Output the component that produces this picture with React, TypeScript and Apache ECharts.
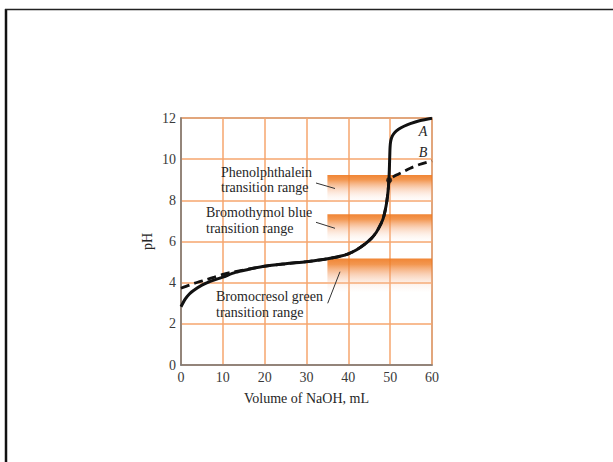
import React, { useEffect, useRef } from "react";
import * as echarts from "echarts";

// Curve A (solid): [volume NaOH mL, pH]
const curveA: [number, number][] = [
  [0, 2.83], [1, 3.2], [2, 3.45], [3, 3.62], [5, 3.88], [7, 4.06], [10, 4.27],
  [13, 4.5], [16, 4.64], [20, 4.8], [25, 4.92], [30, 5.02], [33, 5.1], [36, 5.2],
  [38, 5.28], [40, 5.4], [42, 5.6], [44, 5.88], [45.5, 6.15], [46.7, 6.45],
  [47.6, 6.78], [48.3, 7.1], [48.8, 7.5], [49.2, 7.95], [49.5, 8.45], [49.7, 9.0],
  [49.82, 9.6], [49.9, 10.15], [49.98, 10.6], [50.15, 10.9], [50.5, 11.12],
  [51.1, 11.3], [52, 11.45], [53.3, 11.6], [54.8, 11.73], [57, 11.87], [60, 11.99],
];

// Curve B (dashed)
const curveB: [number, number][] = [
  [0, 3.73], [2, 3.88], [4, 4.02], [6, 4.14], [8, 4.27], [10, 4.4], [12, 4.5],
  [13, 4.54], [16, 4.65], [20, 4.8], [25, 4.92], [30, 5.02], [33, 5.1], [36, 5.2],
  [38, 5.28], [40, 5.4], [42, 5.6], [44, 5.88], [45.5, 6.15], [46.7, 6.45],
  [47.6, 6.78], [48.3, 7.1], [48.8, 7.5], [49.2, 7.95], [49.5, 8.45], [49.72, 8.9],
  [50.1, 9.05], [50.8, 9.15], [51.6, 9.24], [52.4, 9.32], [54.8, 9.56], [57, 9.74],
  [60, 9.92],
];

const junctionPoint: [number, number][] = [[49.75, 8.98]];

// Indicator transition ranges: [xStart, xEnd, pHTop, pHBottom]
const bandNames = ["Phenolphthalein", "Bromothymol blue", "Bromocresol green"];
const bands: [number, number, number, number][] = [
  [35, 60, 9.23, 7.94],
  [35, 60, 7.32, 6.0],
  [35, 60, 5.18, 3.56],
];

const xTicks = { min: 0, max: 60, interval: 10 };
const yTicks = { min: 0, max: 12, interval: 2 };

const SERIF = "'Liberation Serif', 'Times New Roman', serif";
const TXT = "#262626";

export default function App() {
  const ref = useRef<HTMLDivElement>(null);

  useEffect(() => {
    if (!ref.current) return;
    const chart = echarts.init(ref.current, null, { renderer: "svg" });

    const bandGradient = new echarts.graphic.LinearGradient(0, 0, 0, 1, [
      { offset: 0, color: "rgba(239,122,34,0.92)" },
      { offset: 0.18, color: "rgba(240,128,42,0.82)" },
      { offset: 0.5, color: "rgba(244,160,105,0.45)" },
      { offset: 0.8, color: "rgba(248,200,170,0.18)" },
      { offset: 1, color: "rgba(252,230,215,0.05)" },
    ]);

    const textEl = (text: string, x: number, y: number) => ({
      type: "text",
      x,
      y,
      style: {
        text,
        fill: TXT,
        font: `14px ${SERIF}`,
        textAlign: "left",
        textVerticalAlign: "middle",
      },
      z: 10,
    });

    const lineEl = (x1: number, y1: number, x2: number, y2: number) => ({
      type: "line",
      shape: { x1, y1, x2, y2 },
      style: { stroke: "#333", lineWidth: 1 },
      z: 10,
    });

    chart.setOption({
      animation: false,
      backgroundColor: "#fff",
      grid: {
        left: 181,
        top: 118,
        width: 251,
        height: 247,
        show: true,
        borderColor: "#8a8a8a",
        borderWidth: 1.5,
        containLabel: false,
      },
      xAxis: {
        type: "value",
        min: xTicks.min,
        max: xTicks.max,
        interval: xTicks.interval,
        name: "Volume of NaOH, mL",
        nameLocation: "middle",
        nameGap: 26,
        nameTextStyle: { fontFamily: SERIF, fontSize: 14, color: TXT },
        axisLine: { show: true, lineStyle: { color: "#7a7a7a", width: 1.5 } },
        axisTick: { show: false },
        axisLabel: { fontFamily: SERIF, fontSize: 14, color: "#3a3a3a", margin: 5 },
        splitLine: { show: true, lineStyle: { color: "#F6A66E", width: 1.5 } },
      },
      yAxis: {
        type: "value",
        min: yTicks.min,
        max: yTicks.max,
        interval: yTicks.interval,
        name: "pH",
        nameLocation: "middle",
        nameGap: 27,
        nameTextStyle: { fontFamily: SERIF, fontSize: 14, color: TXT },
        axisLine: { show: true, lineStyle: { color: "#7a7a7a", width: 1.5 } },
        axisTick: { show: false },
        axisLabel: { fontFamily: SERIF, fontSize: 14, color: "#3a3a3a", margin: 5 },
        splitLine: { show: true, lineStyle: { color: "#F6A66E", width: 1.5 } },
      },
      series: [
        {
          name: "B",
          type: "line",
          data: curveB,
          showSymbol: false,
          smooth: 0.3,
          lineStyle: { color: "#111", width: 2.8, type: [9, 5] },
          z: 3,
          markArea: {
            silent: true,
            itemStyle: { color: bandGradient },
            data: bands.map((b, i) => [
              { name: bandNames[i], xAxis: b[0], yAxis: b[2] },
              { xAxis: b[1], yAxis: b[3] },
            ]),
            label: { show: false },
          },
        },
        {
          name: "A",
          type: "line",
          data: curveA,
          showSymbol: false,
          smooth: 0.3,
          lineStyle: { color: "#111", width: 3 },
          z: 4,
        },
        {
          name: "junction",
          type: "scatter",
          data: junctionPoint,
          symbolSize: 6,
          itemStyle: { color: "#111" },
          z: 5,
        },
      ],
      graphic: [
        { type: "line", shape: { x1: 6, y1: 9, x2: 6, y2: 470 }, style: { stroke: "#111", lineWidth: 2.5 } },
        { type: "line", shape: { x1: 5, y1: 9.5, x2: 620, y2: 9.5 }, style: { stroke: "#222", lineWidth: 1.5 } },
        textEl("Phenolphthalein", 221, 172.7),
        textEl("transition range", 221, 187.7),
        textEl("Bromothymol blue", 206, 212.3),
        textEl("transition range", 206, 228.3),
        textEl("Bromocresol green", 216, 296.7),
        textEl("transition range", 216, 312.3),
        lineEl(316, 183, 335, 188.5),
        lineEl(316, 222.3, 335, 228.3),
        lineEl(340, 271.7, 327.7, 303.3),
        {
          type: "text",
          x: 423,
          y: 131,
          style: { text: "A", fill: TXT, font: `italic 14px ${SERIF}`, textAlign: "center", textVerticalAlign: "middle" },
          z: 10,
        },
        {
          type: "text",
          x: 423,
          y: 152.7,
          style: { text: "B", fill: TXT, font: `italic 14px ${SERIF}`, textAlign: "center", textVerticalAlign: "middle" },
          z: 10,
        },
      ],
    });

    return () => chart.dispose();
  }, []);

  return (
    <div
      ref={ref}
      style={{ position: "absolute", left: 0, top: 0, width: 613, height: 462 }}
    />
  );
}
